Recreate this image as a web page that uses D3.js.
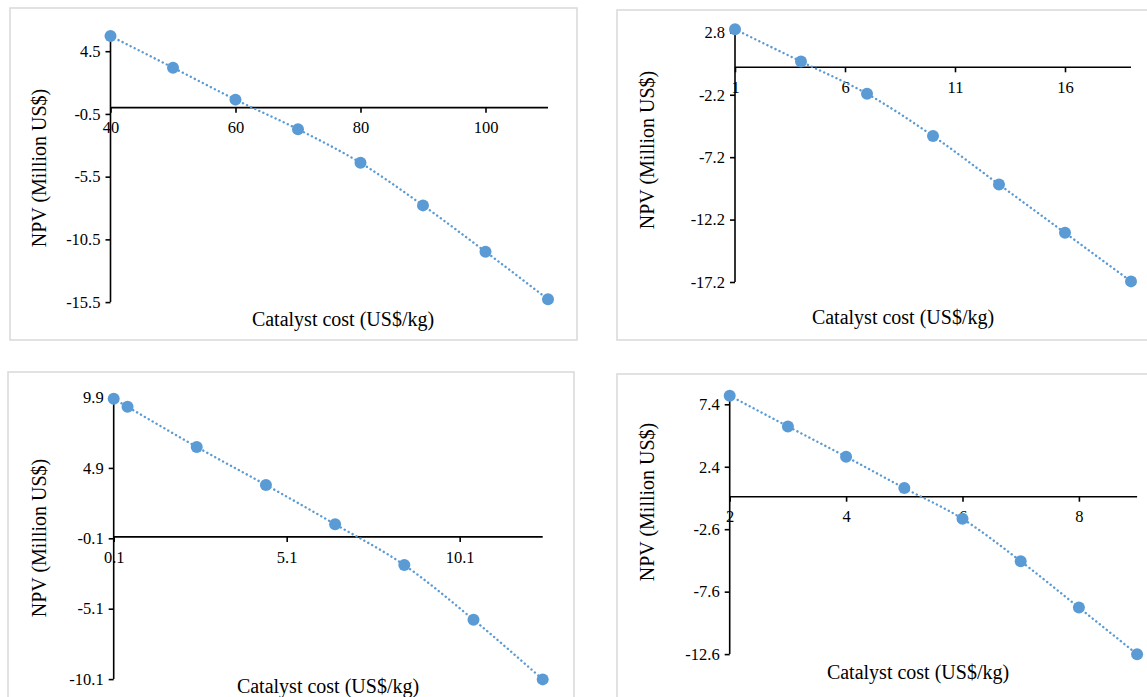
<!DOCTYPE html>
<html>
<head>
<meta charset="utf-8">
<script src="https://cdn.jsdelivr.net/npm/d3@7"></script>
<style>
  html, body { margin: 0; padding: 0; background: #fff; }
  svg text { font-family: "Liberation Serif", "Times New Roman", serif; fill: #000; }
</style>
</head>
<body>
<svg id="chart" width="1147" height="697"></svg>
<script>
// ---- Data ----
const xTitle = "Catalyst cost (US$/kg)";
const yTitle = "NPV (Million US$)";

// Panel A (top-left)
const costA = [40, 50, 60, 70, 80, 90, 100, 110];
const npvA = [5.71, 3.19, 0.64, -1.72, -4.40, -7.79, -11.48, -15.27];
const xTicksA = [40, 60, 80, 100];
const yTicksA = [4.5, -0.5, -5.5, -10.5, -15.5];

// Panel B (top-right)
const costB = [1, 4, 7, 10, 13, 16, 19];
const npvB = [3.04, 0.46, -2.12, -5.50, -9.38, -13.26, -17.15];
const xTicksB = [1, 6, 11, 16];
const yTicksB = [2.8, -2.2, -7.2, -12.2, -17.2];

// Panel C (bottom-left)
const costC = [0.1, 0.5, 2.5, 4.5, 6.5, 8.5, 10.5, 12.5];
const npvC = [9.81, 9.24, 6.39, 3.69, 0.90, -2.00, -5.88, -10.12];
const xTicksC = [0.1, 5.1, 10.1];
const yTicksC = [9.9, 4.9, -0.1, -5.1, -10.1];

// Panel D (bottom-right)
const costD = [2, 3, 4, 5, 6, 7, 8, 9];
const npvD = [8.09, 5.63, 3.20, 0.69, -1.77, -5.16, -8.87, -12.61];
const xTicksD = [2, 4, 6, 8];
const yTicksD = [7.4, 2.4, -2.6, -7.6, -12.6];

// ---- Layout ----
const panels = [
  { cost: costA, npv: npvA, xTicks: xTicksA, yTicks: yTicksA,
    xDom: [40, 110], xRange: [110.5, 548], yDom: [-15.5, 5.8], yRange: [302.1, 34.9],
    frame: [10, 8, 567, 332], yTitlePos: [39, 168], xTitlePos: [343, 326] },
  { cost: costB, npv: npvB, xTicks: xTicksB, yTicks: yTicksB,
    xDom: [1, 19], xRange: [735, 1131], yDom: [-17.2, 3.1], yRange: [282.0, 28.6],
    frame: [617, 10, 540, 330], yTitlePos: [647, 150], xTitlePos: [903, 324] },
  { cost: costC, npv: npvC, xTicks: xTicksC, yTicks: yTicksC,
    xDom: [0.1, 12.5], xRange: [113.7, 542.7], yDom: [-10.1, 10.1], yRange: [679.1, 394.7],
    frame: [8, 372, 566, 340], yTitlePos: [39, 538], xTitlePos: [328, 693] },
  { cost: costD, npv: npvD, xTicks: xTicksD, yTicks: yTicksD,
    xDom: [2, 9], xRange: [729.7, 1137.1], yDom: [-12.6, 8.2], yRange: [654.1, 394.3],
    frame: [617, 374, 540, 340], yTitlePos: [647, 502], xTitlePos: [918, 679] }
];

const svg = d3.select("#chart");
const blue = "#5b9bd5";

panels.forEach(p => {
  const g = svg.append("g");
  // frame
  g.append("rect")
    .attr("x", p.frame[0]).attr("y", p.frame[1])
    .attr("width", p.frame[2]).attr("height", p.frame[3])
    .attr("fill", "#fff").attr("stroke", "#d9d9d9").attr("stroke-width", 1.5);

  const x = d3.scaleLinear().domain(p.xDom).range(p.xRange);
  const y = d3.scaleLinear().domain(p.yDom).range(p.yRange);

  // y axis (left, at x min)
  const yAxis = d3.axisLeft(y).tickValues(p.yTicks).tickSize(5).tickPadding(5)
    .tickFormat(d => d3.format(".1f")(d).replace("−", "-"));
  const ya = g.append("g").attr("transform", `translate(${x(p.xDom[0])},0)`).call(yAxis);
  ya.attr("font-family", null).attr("font-size", null);
  ya.select(".domain").attr("stroke", "#000").attr("stroke-width", 1.6)
    .attr("d", `M0,${y(p.yDom[1])}V${y(p.yDom[0])}`);
  ya.selectAll(".tick line").attr("stroke", "#000").attr("stroke-width", 1.6);
  ya.selectAll(".tick text").attr("font-size", 16.5).attr("font-family", "Liberation Serif");

  // x axis crossing at y = 0
  const xAxis = d3.axisBottom(x).tickValues(p.xTicks).tickSize(5).tickPadding(9)
    .tickFormat(d => String(d));
  const xa = g.append("g").attr("transform", `translate(0,${y(0)})`).call(xAxis);
  xa.attr("font-family", null).attr("font-size", null);
  xa.select(".domain").attr("stroke", "#000").attr("stroke-width", 1.6)
    .attr("d", `M${x(p.xDom[0])},0H${x(p.xDom[1])}`);
  xa.selectAll(".tick line").attr("stroke", "#000").attr("stroke-width", 1.6);
  xa.selectAll(".tick text").attr("font-size", 16.5).attr("font-family", "Liberation Serif");
  // keep the y-axis line on top of the x labels (as in the reference)
  ya.raise();

  // dotted trend line
  const pts = p.cost.map((c, i) => [c, p.npv[i]]);
  const line = d3.line().x(d => x(d[0])).y(d => y(d[1])).curve(d3.curveMonotoneX);
  g.append("path").datum(pts).attr("d", line)
    .attr("fill", "none").attr("stroke", blue).attr("stroke-width", 2.4)
    .attr("stroke-dasharray", "0.1,4.4").attr("stroke-linecap", "round");

  // markers
  g.selectAll("circle.pt").data(pts).enter().append("circle")
    .attr("class", "pt")
    .attr("cx", d => x(d[0])).attr("cy", d => y(d[1])).attr("r", 6)
    .attr("fill", blue);

  // titles
  g.append("text")
    .attr("transform", `translate(${p.yTitlePos[0]},${p.yTitlePos[1]}) rotate(-90)`)
    .attr("text-anchor", "middle").attr("dominant-baseline", "central")
    .attr("font-size", 20).text(yTitle);
  g.append("text")
    .attr("x", p.xTitlePos[0]).attr("y", p.xTitlePos[1])
    .attr("text-anchor", "middle").attr("font-size", 20).text(xTitle);
});
</script>
</body>
</html>
